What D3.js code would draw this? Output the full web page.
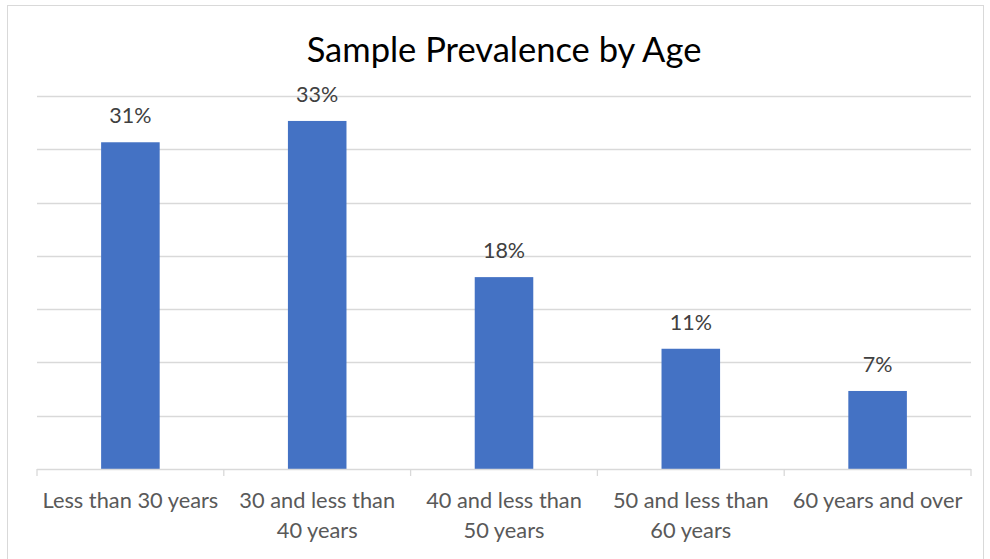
<!DOCTYPE html>
<html><head><meta charset="utf-8">
<script src="https://cdn.jsdelivr.net/npm/d3@7"></script>
<style>
html,body{margin:0;padding:0;background:#fff;}
svg{display:block;}
text{font-family:Lato,"Open Sans",sans-serif;}
</style></head>
<body>
<svg id="chart" width="990" height="559"></svg>
<script>
const title = "Sample Prevalence by Age";
const categories = [["Less than 30 years"],["30 and less than","40 years"],["40 and less than","50 years"],["50 and less than","60 years"],["60 years and over"]];
const values = [30.65, 32.65, 18.0, 11.28, 7.32];
const labels = ["31%","33%","18%","11%","7%"];
const yTicks = [0,5,10,15,20,25,30,35];

const svg = d3.select("#chart");
const x = d3.scaleBand().domain(d3.range(categories.length)).range([37, 971]).paddingInner(0).paddingOuter(0);
const y = d3.scaleLinear().domain([0,35]).range([469, 95.9]);

svg.append("rect").attr("x",7.5).attr("y",5.5).attr("width",976).attr("height",560)
  .attr("fill","#fff").attr("stroke","#d9d9d9").attr("stroke-width",1);

svg.append("text").attr("x",504).attr("y",62).attr("text-anchor","middle")
  .attr("font-size",34.5).attr("fill","#000").text(title);

// gridlines
svg.append("g").selectAll("line").data(yTicks.slice(1)).join("line")
  .attr("x1",37).attr("x2",971).attr("y1",d=>Math.round(y(d))+0.5).attr("y2",d=>Math.round(y(d))+0.5)
  .attr("stroke","#d9d9d9").attr("stroke-width",1.3);

const bw = x.bandwidth()/3.19;
svg.append("g").selectAll("rect").data(values).join("rect")
  .attr("x",(d,i)=>x(i)+x.bandwidth()/2-bw/2).attr("width",bw)
  .attr("y",d=>y(d)).attr("height",d=>y(0)-y(d)).attr("fill","#4472c4");

// axis
const ax = svg.append("g").attr("transform","translate(0,469)");
ax.append("line").attr("x1",37).attr("x2",971).attr("y1",0.5).attr("y2",0.5).attr("stroke","#d9d9d9").attr("stroke-width",1.3);
ax.selectAll("line.t").data(d3.range(categories.length+1)).join("line").attr("class","t")
  .attr("x1",i=>i<categories.length?x(i):971).attr("x2",i=>i<categories.length?x(i):971)
  .attr("y1",0).attr("y2",7).attr("stroke","#d9d9d9").attr("stroke-width",1.3);

svg.append("g").selectAll("text").data(categories).join("text")
  .attr("x",(d,i)=>x(i)+x.bandwidth()/2).attr("y",508).attr("text-anchor","middle")
  .attr("font-size",21.8).attr("fill","#595959")
  .each(function(d){
    const t=d3.select(this);
    d.forEach((s,k)=>t.append("tspan").attr("x",t.attr("x")).attr("dy",k===0?0:29.5).text(s));
  });

svg.append("g").selectAll("text").data(values).join("text")
  .attr("x",(d,i)=>x(i)+x.bandwidth()/2).attr("y",d=>y(d)-19).attr("text-anchor","middle")
  .attr("font-size",21.5).attr("fill","#404040").text((d,i)=>labels[i]);
</script>
</body></html>
